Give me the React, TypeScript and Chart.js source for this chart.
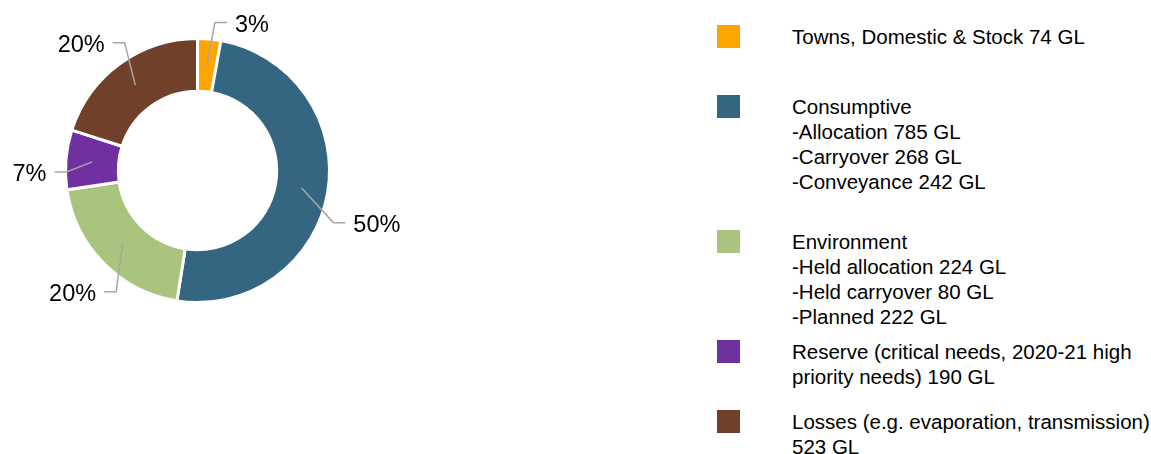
import React, { useEffect, useRef } from "react";
import { Chart, registerables } from "chart.js";

Chart.register(...registerables);

// ---- Data ----
const categoryNames = ["Towns, Domestic & Stock", "Consumptive", "Environment", "Reserve", "Losses"];
const townsGL = 74;
const consumptiveParts = ["-Allocation", "-Carryover", "-Conveyance"];
const consumptiveGL = [785, 268, 242];
const environmentParts = ["-Held allocation", "-Held carryover", "-Planned"];
const environmentGL = [224, 80, 222];
const reserveGL = 190;
const lossesGL = 523;

const sum = (a: number[]) => a.reduce((s, v) => s + v, 0);
const sliceValues = [townsGL, sum(consumptiveGL), sum(environmentGL), reserveGL, lossesGL];
const sliceColors = ["#FFA500", "#346581", "#A9C47F", "#7030A0", "#70402A"];

const legendLines: string[][] = [
  [`Towns, Domestic & Stock ${townsGL} GL`],
  ["Consumptive", ...consumptiveParts.map((p, i) => `${p} ${consumptiveGL[i]} GL`)],
  ["Environment", ...environmentParts.map((p, i) => `${p} ${environmentGL[i]} GL`)],
  ["Reserve (critical needs, 2020-21 high", `priority needs) ${reserveGL} GL`],
  ["Losses (e.g. evaporation, transmission)", `${lossesGL} GL`],
];

// ---- Layout (not data) ----
const legendLayout = { left: 717, textLeft: 792, box: 23, tops: [25, 95, 230, 340, 410] };
const leaderLayout = {
  angleShift: [1.6, 11.4, -11.4, -5.3, 6.4],
  radius: [149, 145.5, 146, 131, 147],
  tail: 12,
  gap: 8,
};

const leaderPlugin = {
  id: "leaders",
  afterDatasetsDraw(chart: any) {
    const ctx = chart.ctx as CanvasRenderingContext2D;
    const meta = chart.getDatasetMeta(0);
    const data = chart.data.datasets[0].data as number[];
    const total = sum(data);
    meta.data.forEach((arc: any, i: number) => {
      const { x, y, startAngle, endAngle, innerRadius, outerRadius } = arc.getProps(
        ["x", "y", "startAngle", "endAngle", "innerRadius", "outerRadius"],
        true
      );
      const mid = (startAngle + endAngle) / 2;
      const rMid = (innerRadius + outerRadius) / 2;
      const x0 = x + Math.cos(mid) * rMid;
      const y0 = y + Math.sin(mid) * rMid;
      const a1 = mid + (leaderLayout.angleShift[i] * Math.PI) / 180;
      const r1 = leaderLayout.radius[i];
      const x1 = x + Math.cos(a1) * r1;
      const y1 = y + Math.sin(a1) * r1;
      const dir = x1 >= x ? 1 : -1;
      const x2 = x1 + dir * leaderLayout.tail;
      const label = `${Math.round((data[i] / total) * 100)}%`;
      ctx.save();
      ctx.strokeStyle = "#A6A6A6";
      ctx.lineWidth = 1.5;
      ctx.beginPath();
      ctx.moveTo(x0, y0);
      ctx.lineTo(x1, y1);
      ctx.lineTo(x2, y1);
      ctx.stroke();
      ctx.fillStyle = "#000000";
      ctx.font = "23.5px 'Liberation Sans', Arial, sans-serif";
      ctx.textBaseline = "middle";
      ctx.textAlign = dir > 0 ? "left" : "right";
      ctx.fillText(label, x2 + dir * leaderLayout.gap, y1 + 2.5);
      ctx.restore();
    });
  },
};

export default function App() {
  const canvasRef = useRef<HTMLCanvasElement | null>(null);

  useEffect(() => {
    if (!canvasRef.current) return;
    const chart = new Chart(canvasRef.current, {
      type: "doughnut",
      data: {
        labels: categoryNames,
        datasets: [
          {
            data: sliceValues,
            backgroundColor: sliceColors,
            borderColor: "#FFFFFF",
            borderWidth: 3,
            borderJoinStyle: "miter",
          } as any,
        ],
      },
      options: {
        animation: false,
        responsive: false,
        maintainAspectRatio: false,
        radius: 132,
        cutout: "60%",
        rotation: 0,
        layout: { padding: { left: 0, right: 5, top: 0, bottom: 0 } },
        plugins: {
          legend: { display: false },
          tooltip: { enabled: false },
        },
      } as any,
      plugins: [leaderPlugin],
    });
    return () => chart.destroy();
  }, []);

  return (
    <div style={{ position: "absolute", left: 0, top: 0, width: 1151, height: 454, background: "#fff" }}>
      <canvas
        ref={canvasRef}
        width={400}
        height={341}
        style={{ position: "absolute", left: 0, top: 0, width: 400, height: 341 }}
      />
      {legendLines.map((lines, i) => (
        <React.Fragment key={i}>
          <div
            style={{
              position: "absolute",
              left: legendLayout.left,
              top: legendLayout.tops[i],
              width: legendLayout.box,
              height: legendLayout.box,
              background: sliceColors[i],
            }}
          />
          <div
            style={{
              position: "absolute",
              left: legendLayout.textLeft,
              top: legendLayout.tops[i] - 1,
              fontFamily: "'Liberation Sans', Arial, sans-serif",
              fontSize: 20.5,
              lineHeight: "25px",
              color: "#000",
              whiteSpace: "pre",
            }}
          >
            {lines.map((l, j) => (
              <div key={j}>{l}</div>
            ))}
          </div>
        </React.Fragment>
      ))}
    </div>
  );
}
